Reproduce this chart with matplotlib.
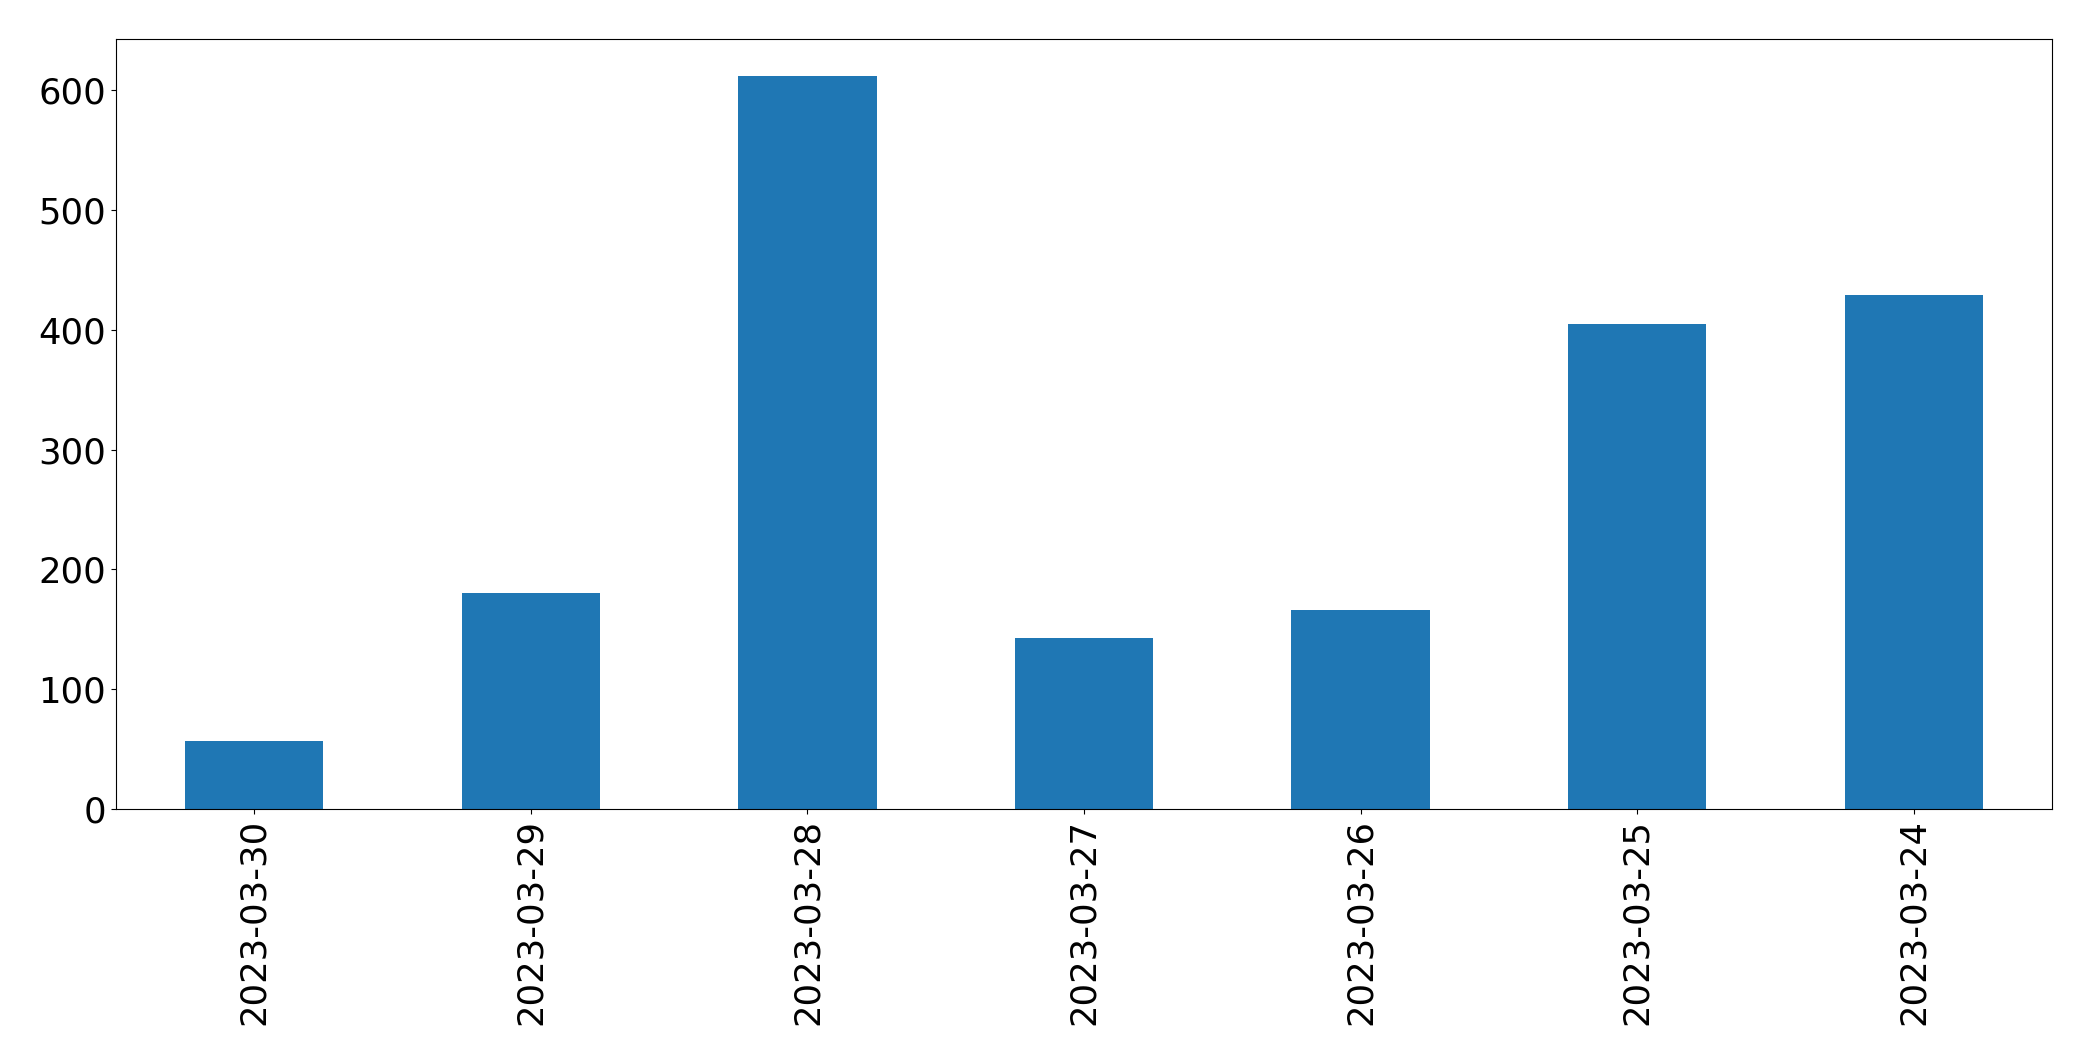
import pandas as pd
import matplotlib
matplotlib.use("Agg")
import matplotlib.pyplot as plt

# Data
dates = ['2023-03-30', '2023-03-29', '2023-03-28', '2023-03-27',
         '2023-03-26', '2023-03-25', '2023-03-24']
counts = [57, 180, 612, 143, 166, 405, 429]

s = pd.Series(counts, index=dates)

fig, ax = plt.subplots(figsize=(20.93, 10.61), dpi=100)
s.plot(kind='bar', ax=ax, color='#1f77b4', width=0.5)

ax.tick_params(axis='both', labelsize=25.5)
ax.set_xlabel('')
plt.subplots_adjust(left=0.0554, right=0.9804, top=0.9632, bottom=0.2375)
plt.savefig('out.png', dpi=100)
